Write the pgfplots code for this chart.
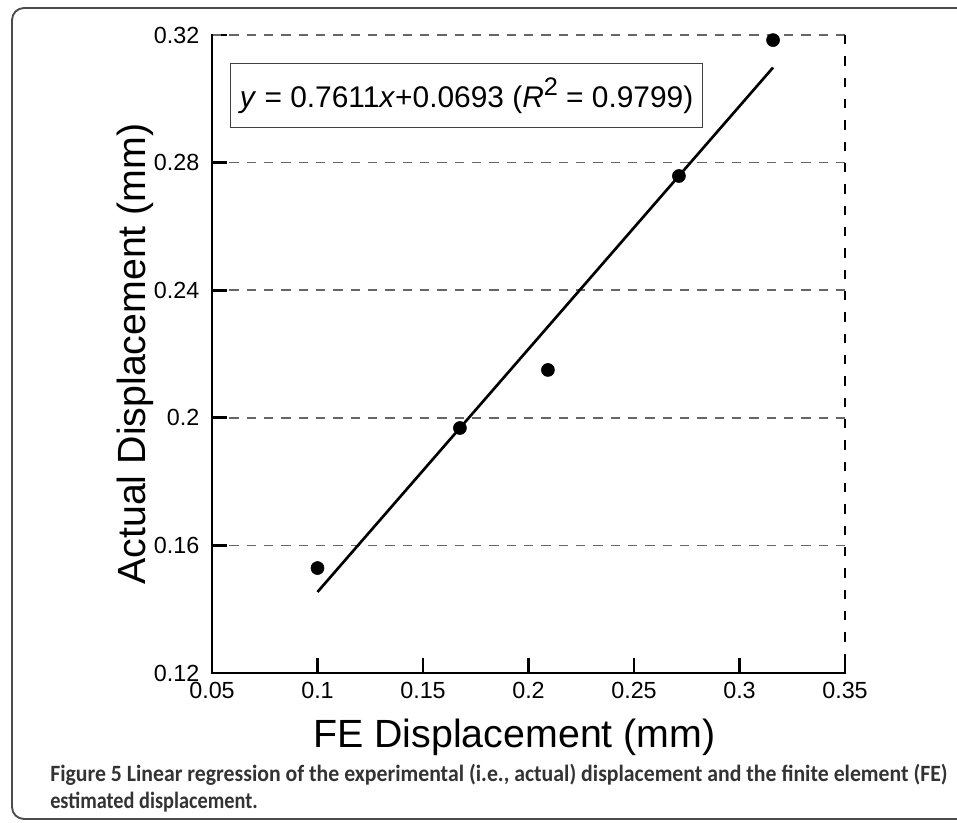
\documentclass[border=0pt]{standalone}
\usepackage{fontspec}
\setmainfont{Liberation Sans}
\newfontfamily\capfont{Carlito}
\usepackage{pgfplots}
\pgfplotsset{compat=1.18}
\begin{document}
\begin{tikzpicture}[x=0.75pt,y=0.75pt]
\clip (0,0) rectangle (957,822);
\draw[line width=1.4pt, black!70, rounded corners=9pt] (990,3) -- (12,3) -- (12,814) -- (990,814);
\begin{axis}[
  at={(159pt,111.75pt)}, anchor=south west,
  scale only axis, width=474.75pt, height=478.5pt,
  xmin=0.05, xmax=0.35, ymin=0.12, ymax=0.32,
  xtick={0.05,0.1,0.15,0.2,0.25,0.3,0.35},
  ytick={0.12,0.16,0.2,0.24,0.28,0.32},
  axis line style={draw=none},
  xtick pos=bottom, ytick pos=left,
  xtick align=inside, ytick align=inside,
  major tick length=11pt,
  every tick/.style={draw=black, line width=2pt},
  /pgf/number format/.cd, fixed, precision=2, assume math mode=true,
  /pgfplots/.cd,
  ticklabel style={font=\fontsize{17.5}{19}\selectfont},
  xticklabel style={yshift=-3pt},
  yticklabel style={xshift=-6pt},
  ymajorgrids,
  major grid style={dash pattern=on 7pt off 6pt, line width=1.1pt, black!60},
  xlabel={FE Displacement (mm)},
  ylabel={Actual Displacement (mm)},
  label style={font=\fontsize{29.5}{31}\selectfont},
  xlabel style={at={(axis description cs:0.5,0)}, anchor=center, yshift=-48pt, xshift=-10.5pt},
  ylabel style={at={(axis description cs:0,0.5)}, anchor=center, yshift=57.75pt},
  clip=false,
]
\draw[black!60, line width=1.1pt, dash pattern=on 7pt off 6pt] (rel axis cs:0,1) -- (rel axis cs:1,1);
\draw[black, line width=0.8pt, dash pattern=on 7pt off 9pt] (rel axis cs:1,1) -- (rel axis cs:1,0);
\draw[black, line width=2.2pt, line cap=rect] (rel axis cs:0,1) -- (rel axis cs:0,0) -- (rel axis cs:1,0);
\addplot[black, line width=2pt] coordinates {(0.1,0.1454) (0.3159,0.3098)};
\addplot[only marks, mark=*, mark size=4.9pt, black] coordinates {
  (0.1,0.1529) (0.1675,0.1968) (0.2092,0.215) (0.2713,0.2758) (0.3159,0.3184)};
\node[draw=black!75, line width=0.8pt, anchor=north west, inner xsep=7pt, minimum height=48pt,
  font=\fontsize{22.4}{24}\selectfont] at (axis cs:0.0585,0.3112)
  {\textit{y} = 0.7611\textit{x}+0.0693 (\textit{R}\raisebox{0.42em}{\fontsize{19}{20}\selectfont 2} = 0.9799)};
\end{axis}
\node[anchor=base west, inner sep=0pt, text=black!80, font=\capfont\bfseries\fontsize{17.5}{20}\selectfont] at (50,41)
  {\resizebox{673pt}{\height}{Figure 5 Linear regression of the experimental (i.e., actual) displacement and the finite element (FE)}};
\node[anchor=base west, inner sep=0pt, text=black!80, font=\capfont\bfseries\fontsize{17.5}{20}\selectfont] at (50,14)
  {\resizebox{155.6pt}{\height}{estimated displacement.}};
\end{tikzpicture}
\end{document}
